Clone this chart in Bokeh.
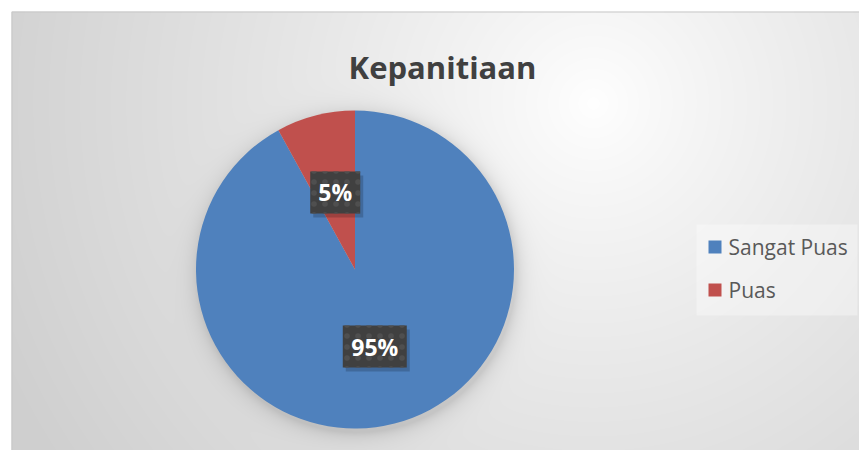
import numpy as np
from bokeh.plotting import figure
from bokeh.models import Range1d, ColumnDataSource
from bokeh.core.properties import value
from bokeh.embed import file_html
from bokeh.resources import INLINE

# ---- data ----
title_text = "Kepanitiaan"
categories = ["Sangat Puas", "Puas"]
shares = [92, 8]
label_texts = ["95%", "5%"]
colors = ["#4F81BD", "#C0504D"]

FONT = "Open Sans"
W, H = 859, 450

p = figure(width=W, height=H, x_range=Range1d(0, W), y_range=Range1d(0, H),
           x_axis_type=None, y_axis_type=None, toolbar_location=None,
           output_backend="svg", min_border=0, outline_line_color=None)
p.background_fill_color = "white"
p.border_fill_color = "white"

# ---- chart-area background: soft radial gradient + pie shadow ----
cx, cy_top, R = 354.5, 269.0, 159.0
x0, y0 = 11, 11
bw, bh = W - x0, H - y0
xs = np.arange(bw) + x0 + 0.5
ys = np.arange(bh) + y0 + 0.5
X, Y = np.meshgrid(xs, ys)
d = np.hypot(X - 593, Y - 103)
t = np.clip(d / 640.0, 0, 1)
g = 255 - 47 * t ** 0.85
ds = np.hypot(X - (cx + 2), Y - (cy_top + 4)) - R
shadow = np.where(ds > 0, 0.13 * np.exp(-ds / 8.0), 0.13)
g = g * (1 - shadow)
gi = np.clip(g, 0, 255).astype(np.uint8)
img = np.empty((bh, bw), dtype=np.uint32)
view = img.view(dtype=np.uint8).reshape((bh, bw, 4))
view[..., 0] = gi
view[..., 1] = gi
view[..., 2] = gi
view[..., 3] = 255
img = np.ascontiguousarray(img[::-1])
p.image_rgba(image=[img], x=x0, y=0, dw=bw, dh=bh)

# chart border
p.quad(left=x0 + 0.5, right=W + 5, top=H - y0 - 0.5, bottom=-5, fill_color=None,
       line_color="#c8c8c8", line_width=1)

# ---- pie ----
vals = np.array(shares, dtype=float)
frac = vals / vals.sum()
cum = np.concatenate([[0.0], np.cumsum(frac)])
start = np.pi / 2 - 2 * np.pi * cum[:-1]
end = np.pi / 2 - 2 * np.pi * cum[1:]
src = ColumnDataSource(dict(cat=categories, start=start, end=end, color=colors))
cy = H - cy_top
r = p.wedge(x=cx, y=cy, radius=R, start_angle="start", end_angle="end",
            direction="clock", fill_color="color", line_color=None, source=src)

# ---- data labels ----
mid = (start + end) / 2
lx = cx + 0.5 * R * np.cos(mid)
ly = cy + 0.5 * R * np.sin(mid)
bwid = [22 + 14 * len(s) for s in label_texts]
lab = ColumnDataSource(dict(x=lx, y=ly, sx=lx + 3, sy=ly - 4, w=bwid, text=label_texts))
p.rect(x="sx", y="sy", width="w", height=42, fill_color="black", fill_alpha=0.18,
       line_color=None, source=lab)
p.rect(x="x", y="y", width="w", height=42, fill_color="#404040", line_color=None,
       hatch_pattern="dot", hatch_color="#4f4f4f", hatch_scale=11, hatch_weight=2.5,
       source=lab)
p.text(x="x", y="y", text="text", text_align="center", text_baseline="middle",
       text_font=value(FONT), text_font_style="bold", text_font_size="23px",
       text_color="white", source=lab)

# ---- title ----
p.text(x=[442], y=[H - 66], text=[title_text], text_align="center",
       text_baseline="alphabetic", text_font=value(FONT), text_font_style="bold",
       text_font_size="31px", text_color="#404040")

# ---- legend (drawn from the category list) ----
n = len(categories)
leg_top, leg_step = 246.5, 43.0
ky = [H - (leg_top + i * leg_step) for i in range(n)]
p.quad(left=696, right=857, top=H - 224, bottom=H - 315, fill_color="white",
       fill_alpha=0.35, line_color=None)
leg = ColumnDataSource(dict(x=[714.5] * n, tx=[728] * n, y=ky, color=colors, text=categories))
p.rect(x="x", y="y", width=13, height=13, fill_color="color", line_color=None, source=leg)
p.text(x="tx", y="y", text="text", text_align="left", text_baseline="middle",
       text_font=value(FONT), text_font_size="21px", text_color="#595959", source=leg)

open("out.html", "w").write(file_html(p, INLINE))
